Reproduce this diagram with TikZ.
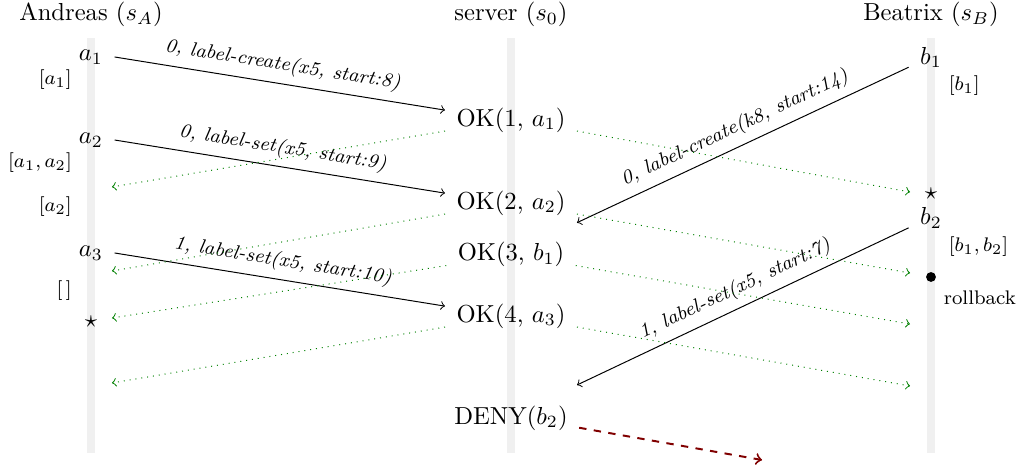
\documentclass[tikz,border=0pt]{standalone}
\usepackage{xcolor}
\definecolor{ack}{RGB}{0,128,0}
\definecolor{refused}{RGB}{128,0,0}
\definecolor{timeline}{RGB}{240,240,240}
\tikzstyle{event}=[inner xsep=4.5pt]
\tikzstyle{history}=[font=\footnotesize]
\tikzset{lifeline/.style={line width=1.1mm, color=timeline}}
\tikzset{msg/.style={->}}
\tikzset{reply/.style={->,dotted,color=ack}}
\tikzset{reject/.style={->,dashed,thick,color=refused}}
\tikzset{op/.style={font=\footnotesize\itshape,midway,above,sloped}}

\begin{document}
\begin{tikzpicture}
  \useasboundingbox (-1.3,0) rectangle (13.3,-6.7);
  %% Lifelines
  \draw[lifeline] (0,-0.54) -- (0,-6.47);
  \draw[lifeline] (6,-0.54) -- (6,-6.47);
  \draw[lifeline] (12,-0.54) -- (12,-6.47);

  \draw (0,-0.21) node (Andreas) {Andreas ($s_A$)};
  \draw (6,-0.21) node (Server) {server ($s_0$)};
  \draw (12,-0.21) node (Beatrix) {Beatrix ($s_B$)};

  %% Events
  \draw (0,-0.814) node[event] (A1) {$a_1$};
  \draw (0,-2.0) node[event] (A2) {$a_2$};
  \draw (0,-3.614) node[event] (A3) {$a_3$};
  \draw (0,-4.6) node (StarA) {$\star$};

  \draw (12,-0.82) node[event] (B1) {$b_1$};
  \draw (12,-3.114) node[event] (B2) {$b_2$};
  \draw (12,-2.771) node (StarB) {$\star$};
  \draw (12,-3.957) node[circle,fill,inner sep=0pt,minimum size=4pt] (Dot) {};

  \draw (6,-1.714) node[event] (OK1) {OK(1, $a_1$)};
  \draw (6,-2.9) node[event] (OK2) {OK(2, $a_2$)};
  \draw (6,-3.636) node[event] (OK3) {OK(3, $b_1$)};
  \draw (6,-4.514) node[event] (OK4) {OK(4, $a_3$)};
  \draw (6,-5.97) node[event] (Deny) {DENY($b_2$)};

  %% Local histories
  \draw (-0.15,-1.143) node[history,anchor=east] (HistA1) {$[a_1]$};
  \draw (-0.15,-2.329) node[history,anchor=east] (HistA2) {$[a_1, a_2]$};
  \draw (-0.15,-2.957) node[history,anchor=east] (HistA3) {$[a_2]$};
  \draw (-0.15,-4.157) node[history,anchor=east] (HistA4) {$[\,]$};
  \draw (12.13,-1.229) node[history,anchor=west] (HistB1) {$[b_1]$};
  \draw (12.13,-3.529) node[history,anchor=west] (HistB2) {$[b_1, b_2]$};
  \draw (12.06,-4.257) node[history,anchor=west] (Rollback) {rollback};

  %% Arrival points
  \coordinate (AckA1) at (0.3,-2.671);
  \coordinate (AckA2) at (0.3,-3.871);
  \coordinate (AckA3) at (0.3,-4.543);
  \coordinate (AckA4) at (0.3,-5.471);
  \coordinate (AckB1) at (11.7,-2.743);
  \coordinate (AckB2) at (11.7,-3.9);
  \coordinate (AckB3) at (11.7,-4.629);
  \coordinate (AckB4) at (11.7,-5.514);
  \coordinate (B2in) at (6.943,-5.5);
  \coordinate (DenyEnd) at (9.586,-6.571);

  %% Requests
  \draw[msg] (A1.east) -- node[op] {0, label-create(x5, start:8)} ([yshift=4pt]OK1.west);
  \draw[msg] (A2.east) -- node[op] {0, label-set(x5, start:9)} ([yshift=4pt]OK2.west);
  \draw[msg] (A3.east) -- node[op] {1, label-set(x5, start:10)} ([yshift=4pt]OK4.west);
  \draw[msg] ([yshift=-4pt]B1.west) -- node[op] {0, label-create(k8, start:14)} ([yshift=-8pt]OK2.east);
  \draw[msg] ([yshift=-4pt]B2.west) -- node[op] {1, label-set(x5, start:7)} (B2in);

  %% Broadcasts
  \draw[reply] ([yshift=-4.5pt]OK1.west) -- (AckA1);
  \draw[reply] ([yshift=-4.5pt]OK2.west) -- (AckA2);
  \draw[reply] ([yshift=-4.5pt]OK3.west) -- (AckA3);
  \draw[reply] ([yshift=-4.5pt]OK4.west) -- (AckA4);
  \draw[reply] ([yshift=-4.5pt]OK1.east) -- (AckB1);
  \draw[reply] ([yshift=-4.5pt]OK2.east) -- (AckB2);
  \draw[reply] ([yshift=-4.5pt]OK3.east) -- (AckB3);
  \draw[reply] ([yshift=-4.5pt]OK4.east) -- (AckB4);

  \draw[reject] ([yshift=-4pt]Deny.east) -- (DenyEnd);
\end{tikzpicture}
\end{document}
